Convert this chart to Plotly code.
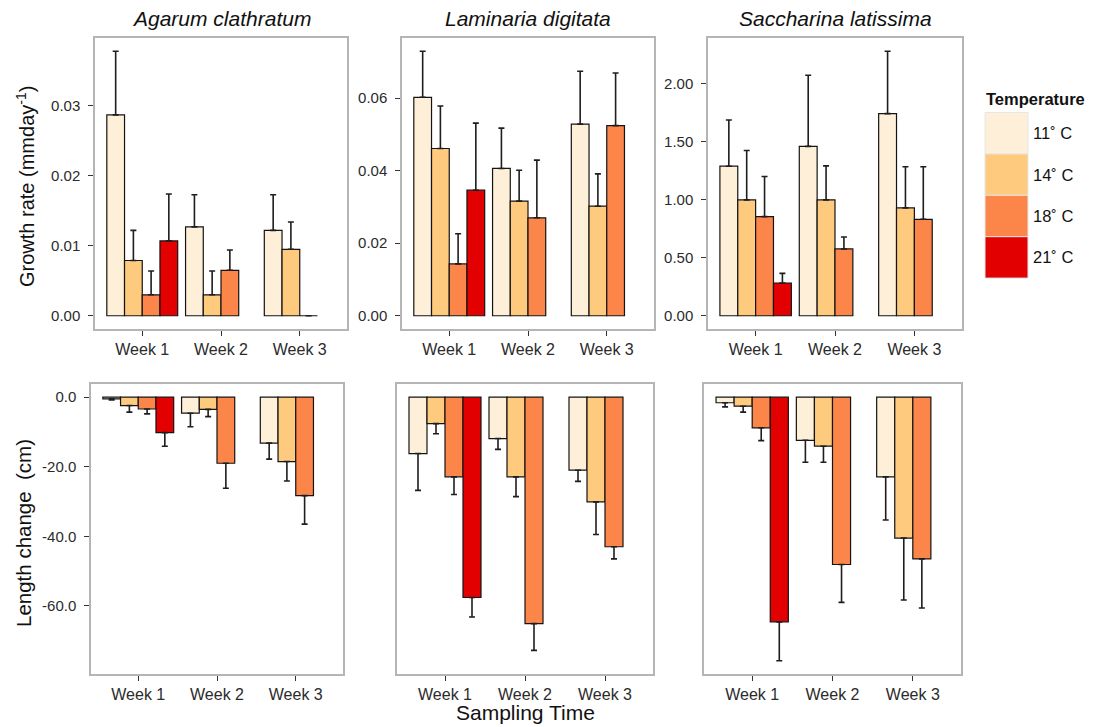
import plotly.graph_objects as go

# the page body adds an 8px margin; the figure is sized to fill the rest of the window
W, H = 1095, 727
OX, OY = 8, 8
FW, FH = W - OX, H - OY - 1

weeks = ["Week 1", "Week 2", "Week 3"]
temps = ["11˚ C", "14˚ C", "18˚ C", "21˚ C"]
colors = ["#FEEFD8", "#FDCA7E", "#FC854A", "#E30000"]
species = ["Agarum clathratum", "Laminaria digitata", "Saccharina latissima"]

# Growth rate (mm day-1): means per temperature (rows) and week (columns), and upper error
growth_agarum = [[0.0287, 0.0127, 0.0122], [0.0079, 0.0030, 0.0095], [0.0030, 0.0065, 0.0], [0.0107, None, None]]
growth_agarum_err = [[0.0091, 0.0046, 0.0051], [0.0043, 0.0034, 0.0039], [0.0034, 0.0029, None], [0.0067, None, None]]
growth_laminaria = [[0.0602, 0.0406, 0.0528], [0.0461, 0.0316, 0.0302], [0.0143, 0.0270, 0.0524], [0.0346, None, None]]
growth_laminaria_err = [[0.0127, 0.0111, 0.0146], [0.0117, 0.0085, 0.0089], [0.0083, 0.0159, 0.0145], [0.0185, None, None]]
growth_saccharina = [[1.287, 1.457, 1.739], [0.997, 0.997, 0.928], [0.853, 0.575, 0.830], [0.282, None, None]]
growth_saccharina_err = [[0.397, 0.612, 0.537], [0.425, 0.293, 0.354], [0.345, 0.103, 0.452], [0.083, None, None]]

# Length change (cm): means and lower error
length_agarum = [[-0.5, -4.6, -13.2], [-2.4, -3.5, -18.5], [-3.4, -19.0, -28.3], [-10.2, None, None]]
length_agarum_err = [[0.3, 3.9, 4.6], [1.9, 2.1, 5.6], [1.4, 7.2, 8.2], [3.9, None, None]]
length_laminaria = [[-16.2, -11.9, -21.0], [-7.6, -22.9, -30.1], [-22.9, -65.1, -43.0], [-57.6, None, None]]
length_laminaria_err = [[10.6, 3.1, 3.2], [2.9, 5.7, 9.4], [5.1, 7.7, 3.5], [5.6, None, None]]
length_saccharina = [[-1.6, -12.4, -22.9], [-2.6, -14.1, -40.5], [-8.8, -48.1, -46.5], [-64.6, None, None]]
length_saccharina_err = [[1.2, 6.3, 12.4], [1.7, 4.6, 17.8], [3.7, 10.9, 14.1], [11.2, None, None]]

growth_ticks = [[0, 0.01, 0.02, 0.03], [0, 0.02, 0.04, 0.06], [0, 0.5, 1.0, 1.5, 2.0]]
length_ticks = [0, -20, -40, -60]

FONT = "Liberation Sans, Arial, Helvetica, sans-serif"
TXT = "#2b2b2b"

def px(x):
    return (x - OX) / FW

def py(y):
    return 1 - (y - OY) / FH

def dom_x(a, b):
    return [px(a), px(b)]

def dom_y(top, bottom):
    return [py(bottom), py(top)]

panels = [
    # values, errors, kind, x px, y px (window pixels)
    (growth_agarum, growth_agarum_err, "g", (95, 347), (38, 329)),
    (growth_laminaria, growth_laminaria_err, "g", (402, 654), (38, 329)),
    (growth_saccharina, growth_saccharina_err, "g", (708, 962), (38, 329)),
    (length_agarum, length_agarum_err, "l", (91, 343), (384, 674)),
    (length_laminaria, length_laminaria_err, "l", (397, 653), (384, 674)),
    (length_saccharina, length_saccharina_err, "l", (704, 961), (384, 674)),
]

def extent(vals, errs, kind):
    lo, hi = 0.0, 0.0
    for row_v, row_e in zip(vals, errs):
        for v, e in zip(row_v, row_e):
            if v is None:
                continue
            e = e or 0
            if kind == "g":
                hi = max(hi, v + e)
            else:
                lo = min(lo, v - e)
    return lo, hi

# shared range for the bottom row
llo = min(extent(p[0], p[1], "l")[0] for p in panels[3:])
lhi = 0.0

fig = go.Figure()
layout = {}
for i, (vals, errs, kind, xp, yp) in enumerate(panels):
    n = i + 1
    for t in range(4):
        v = vals[t]
        e = errs[t]
        zeros = [0 if ee is not None else None for ee in e]
        if kind == "g":
            ey = dict(type="data", symmetric=False, array=e, arrayminus=zeros)
        else:
            ey = dict(type="data", symmetric=False, array=zeros, arrayminus=e)
        ey.update(color="#1e1e1e", thickness=1.6, width=3)
        fig.add_trace(go.Bar(
            x=weeks, y=v, name=temps[t], xaxis=f"x{n}", yaxis=f"y{n}",
            marker=dict(color=colors[t], line=dict(color="#141414", width=1.2)),
            error_y=ey, showlegend=False,
        ))
    if kind == "g":
        lo, hi = extent(vals, errs, kind)
        tv = growth_ticks[i]
        tt = [f"{x:.2f}" for x in tv]
    else:
        lo, hi = llo, lhi
        tv = length_ticks
        tt = [f"{x:.1f}" for x in tv]
    pad = 0.05 * (hi - lo)
    sfx = "" if n == 1 else str(n)
    layout[f"xaxis{sfx}"] = dict(
        domain=dom_x(*xp), anchor=f"y{n}", range=[-0.6, 2.6],
        showline=True, mirror=True, linecolor="#b5b5b5", linewidth=1.5,
        ticks="outside", ticklen=5, tickwidth=1.2, tickcolor="#333333",
        showgrid=False, zeroline=False,
        tickfont=dict(family=FONT, size=16, color=TXT),
    )
    show_y = not (kind == "l" and n != 4)
    layout[f"yaxis{sfx}"] = dict(
        domain=dom_y(*yp), anchor=f"x{n}", range=[lo - pad, hi + pad],
        showline=True, mirror=True, linecolor="#b5b5b5", linewidth=1.5,
        ticks="outside" if show_y else "", ticklen=5, tickwidth=1.2, tickcolor="#333333",
        showticklabels=show_y, tickvals=tv, ticktext=tt, ticklabelstandoff=5,
        showgrid=False, zeroline=False,
        tickfont=dict(family=FONT, size=15, color=TXT),
    )

annotations = []
for i, sp in enumerate(species):
    xp = panels[i][3]
    annotations.append(dict(
        text=f"<i>{sp}</i>", x=px((xp[0] + xp[1]) / 2), y=py(18),
        xref="paper", yref="paper", showarrow=False, xanchor="center", yanchor="middle",
        font=dict(family=FONT, size=21, color="#111111"),
    ))
annotations.append(dict(
    text="Growth rate (mmday<sup>-1</sup>)", x=px(25), y=py(187), textangle=-90,
    xref="paper", yref="paper", showarrow=False, xanchor="center", yanchor="middle",
    font=dict(family=FONT, size=20, color="#111111"),
))
annotations.append(dict(
    text="Length change\u00a0\u00a0(cm)", x=px(23), y=py(533), textangle=-90,
    xref="paper", yref="paper", showarrow=False, xanchor="center", yanchor="middle",
    font=dict(family=FONT, size=20.5, color="#111111"),
))
annotations.append(dict(
    text="Sampling Time", x=px(525), y=py(712),
    xref="paper", yref="paper", showarrow=False, xanchor="center", yanchor="middle",
    font=dict(family=FONT, size=21, color="#111111"),
))

# legend drawn manually with large ggplot-style keys
shapes = []
annotations.append(dict(
    text="<b>Temperature</b>", x=px(984), y=py(99),
    xref="paper", yref="paper", showarrow=False, xanchor="left", yanchor="middle",
    font=dict(family=FONT, size=16.5, color="#111111"),
))
key_top, key_h = 112.5, 41.4
for t, temp in enumerate(temps):
    y0 = key_top + t * key_h
    shapes.append(dict(
        type="rect", xref="paper", yref="paper",
        x0=px(985), x1=px(1028), y0=py(y0 + key_h), y1=py(y0),
        fillcolor=colors[t], line=dict(color="#e6e6e6", width=1),
    ))
    annotations.append(dict(
        text=temp, x=px(1031), y=py(y0 + key_h / 2),
        xref="paper", yref="paper", showarrow=False, xanchor="left", yanchor="middle",
        font=dict(family=FONT, size=16.5, color="#111111"),
    ))

fig.update_layout(
    width=FW, height=FH, margin=dict(l=0, r=0, t=0, b=0),
    paper_bgcolor="white", plot_bgcolor="white",
    barmode="group", bargap=0.1, bargroupgap=0,
    annotations=annotations, shapes=shapes,
    font=dict(family=FONT),
    **layout,
)

fig.write_html("out.html")
